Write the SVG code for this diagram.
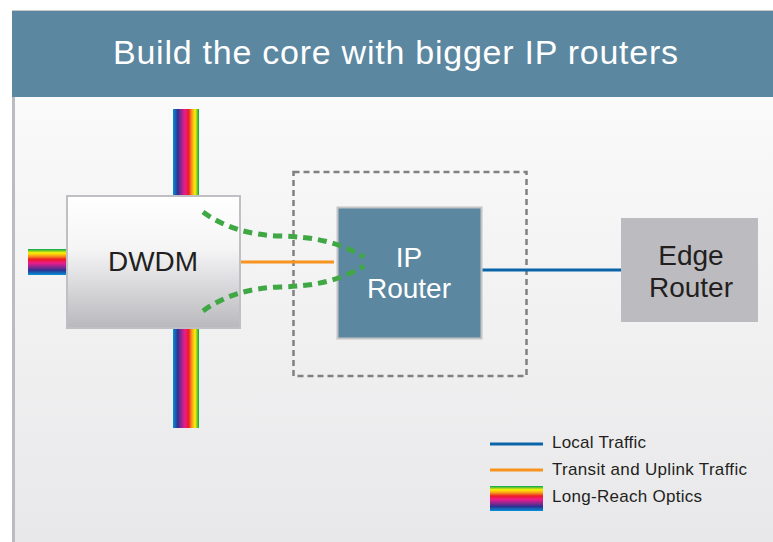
<svg xmlns="http://www.w3.org/2000/svg" width="773" height="542" viewBox="0 0 773 542">
  <style>
    .dark { fill: #231f20; font-family: "Liberation Sans", Arial, sans-serif; }
    .white { fill: #ffffff; font-family: "Liberation Sans", Arial, sans-serif; }
    .node { font-size: 28px; text-anchor: middle; }
    .legend { font-size: 17px; }
    .green { fill: none; stroke: #3fa845; stroke-width: 5; stroke-dasharray: 9 6; }
  </style>
  <defs>
    <linearGradient id="bg" x1="0" y1="0" x2="0" y2="1">
      <stop offset="0" stop-color="#fafafa"/>
      <stop offset="1" stop-color="#e8e8ea"/>
    </linearGradient>
    <linearGradient id="dwdmFill" x1="0" y1="0" x2="0" y2="1">
      <stop offset="0" stop-color="#ffffff"/>
      <stop offset="0.4" stop-color="#f5f5f6"/>
      <stop offset="1" stop-color="#b9b9bd"/>
    </linearGradient>
    <linearGradient id="rainV" x1="0" y1="0" x2="1" y2="0">
      <stop offset="0" stop-color="#0093d8"/>
      <stop offset="0.18" stop-color="#2e3192"/>
      <stop offset="0.32" stop-color="#92278f"/>
      <stop offset="0.46" stop-color="#ec1c8c"/>
      <stop offset="0.6" stop-color="#ed1c24"/>
      <stop offset="0.72" stop-color="#f7941d"/>
      <stop offset="0.85" stop-color="#fff200"/>
      <stop offset="1" stop-color="#00a651"/>
    </linearGradient>
    <linearGradient id="rainH" x1="0" y1="1" x2="0" y2="0">
      <stop offset="0" stop-color="#0093d8"/>
      <stop offset="0.18" stop-color="#2e3192"/>
      <stop offset="0.32" stop-color="#92278f"/>
      <stop offset="0.46" stop-color="#ec1c8c"/>
      <stop offset="0.6" stop-color="#ed1c24"/>
      <stop offset="0.72" stop-color="#f7941d"/>
      <stop offset="0.85" stop-color="#fff200"/>
      <stop offset="1" stop-color="#00a651"/>
    </linearGradient>
  </defs>

  <rect x="0" y="0" width="773" height="542" fill="#ffffff"/>
  <rect x="12" y="97" width="761" height="445" fill="url(#bg)"/>
  <rect x="12" y="97" width="3" height="445" fill="#bcbcc0"/>
  <rect x="12" y="10" width="761" height="1.5" fill="#c8c8c8"/>
  <rect id="header" x="12" y="11" width="761" height="86" fill="#5b87a0"/>
  <text class="white" x="113" y="64" font-size="34" textLength="565" lengthAdjust="spacing">Build the core with bigger IP routers</text>

  <g id="dwdm">
    <rect x="67" y="196" width="173" height="132" fill="url(#dwdmFill)" stroke="#c0c0c4" stroke-width="2"/>
    <text class="dark" x="153" y="271" font-size="27" text-anchor="middle" textLength="90" lengthAdjust="spacingAndGlyphs">DWDM</text>
  </g>

  <g id="core-boundary">
    <rect x="293.5" y="172" width="233" height="204" fill="none" stroke="#808080" stroke-width="2.5" stroke-dasharray="6 4"/>
  </g>

  <g id="ip-router">
    <rect x="337.5" y="207.5" width="144" height="131" fill="#5b87a0" stroke="#c4c4c6" stroke-width="2"/>
    <text class="white node" x="409" y="267">IP</text>
    <text class="white node" x="409" y="298">Router</text>
  </g>

  <g id="edge-router">
    <rect x="621" y="218" width="137" height="104" fill="#bcbbbf"/>
    <text class="dark node" x="691" y="265">Edge</text>
    <text class="dark node" x="691" y="297">Router</text>
  </g>

  <g id="connectors">
    <rect x="173" y="109" width="26" height="86" fill="url(#rainV)"/>
    <rect x="173" y="329" width="26" height="99" fill="url(#rainV)"/>
    <rect x="28" y="249" width="38" height="26" fill="url(#rainH)"/>
    <line x1="241" y1="262" x2="334" y2="262" stroke="#f7941d" stroke-width="3"/>
    <line x1="482.5" y1="270" x2="621" y2="270" stroke="#0a64a8" stroke-width="3"/>
    <path class="green" d="M203,212 C225,228 250,235 280,236 C310,237 335,240 364,257"/>
    <path class="green" d="M203,311 C225,295 250,288 280,287 C310,286 335,283 364,266"/>
  </g>

  <g id="legend">
    <line x1="490" y1="444" x2="543" y2="444" stroke="#0a64a8" stroke-width="3"/>
    <line x1="490" y1="470" x2="543" y2="470" stroke="#f7941d" stroke-width="3"/>
    <rect x="490" y="486" width="53" height="25" fill="url(#rainH)"/>
    <text class="dark legend" x="552" y="448" textLength="94" lengthAdjust="spacing">Local Traffic</text>
    <text class="dark legend" x="552" y="475" textLength="195" lengthAdjust="spacing">Transit and Uplink Traffic</text>
    <text class="dark legend" x="552" y="502" textLength="150" lengthAdjust="spacing">Long-Reach Optics</text>
  </g>
</svg>
